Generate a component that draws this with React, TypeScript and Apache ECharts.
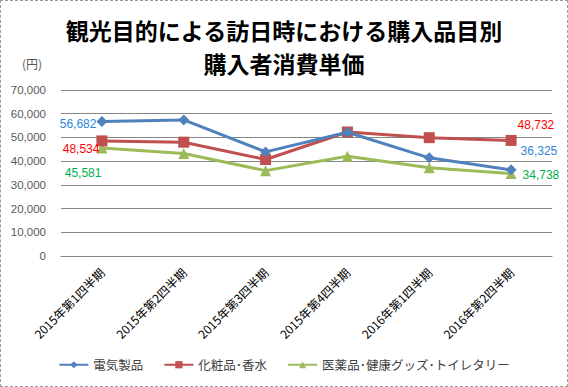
import React, { useEffect, useRef } from "react";
import * as echarts from "echarts";

const categories = [
  "2015年第1四半期",
  "2015年第2四半期",
  "2015年第3四半期",
  "2015年第4四半期",
  "2016年第1四半期",
  "2016年第2四半期",
];
const seriesNames = ["電気製品", "化粧品･香水", "医薬品･健康グッズ･トイレタリー"];
const electronics = [56682, 57400, 43900, 52200, 41400, 36325];
const cosmetics = [48534, 48000, 40700, 52300, 49900, 48732];
const medicine = [45581, 43200, 36000, 42100, 37200, 34738];
const yTicks = { min: 0, max: 70000, interval: 10000 };
const titleLines = ["観光目的による訪日時における購入品目別", "購入者消費単価"];
const unitLabel = "(円)";

const JP = '"Noto Sans CJK JP", "Noto Sans", sans-serif';
const NUM = '"Liberation Sans", Arial, sans-serif';

function buildData(
  values: number[],
  labelColor: string,
  firstLabel: { position: string; offset: number[] },
  lastLabel: { position: string; offset: number[] }
) {
  return values.map((v, i) => {
    if (i === 0 || i === values.length - 1) {
      const cfg = i === 0 ? firstLabel : lastLabel;
      return {
        value: v,
        label: {
          show: true,
          position: cfg.position,
          distance: 0,
          offset: cfg.offset,
          color: labelColor,
          fontSize: 12,
          fontFamily: NUM,
          formatter: (p: any) => Number(p.value).toLocaleString("en-US"),
        },
      };
    }
    return { value: v };
  });
}

export default function App() {
  const ref = useRef<HTMLDivElement>(null);
  useEffect(() => {
    document.body.style.margin = "0";
    if (!ref.current) return;
    const chart = echarts.init(ref.current, null, { renderer: "svg" });
    const lineStyleCommon = { width: 3 };
    chart.setOption({
      animation: false,
      backgroundColor: "#ffffff",
      title: {
        text: titleLines.join("\n"),
        left: "center",
        top: 7,
        textStyle: {
          fontFamily: JP,
          fontSize: 23,
          fontWeight: "bold",
          color: "#000000",
          lineHeight: 33,
        },
      },
      graphic: [
        {
          type: "text",
          left: 21,
          top: 56,
          style: { text: unitLabel, fontSize: 12, fontFamily: JP, fill: "#595959" },
        },
      ],
      legend: {
        bottom: 10,
        left: "center",
        itemWidth: 29,
        itemHeight: 9,
        itemGap: 20,
        textStyle: { fontFamily: JP, fontSize: 12.5, color: "#404040" },
        data: seriesNames,
      },
      grid: { left: 60, right: 15, top: 89, bottom: 130 },
      xAxis: {
        type: "category",
        data: categories,
        boundaryGap: true,
        axisLine: { show: true, lineStyle: { color: "#868686", width: 1 } },
        axisTick: { show: false },
        axisLabel: {
          rotate: 45,
          interval: 0,
          margin: 14,
          fontFamily: JP,
          fontSize: 12,
          color: "#000000",
        },
      },
      yAxis: {
        type: "value",
        min: yTicks.min,
        max: yTicks.max,
        interval: yTicks.interval,
        axisLine: { show: false },
        axisTick: { show: false },
        splitLine: { lineStyle: { color: "#868686", width: 1 } },
        axisLabel: {
          margin: 15,
          fontFamily: NUM,
          fontSize: 11.5,
          color: "#595959",
          formatter: (v: number) => v.toLocaleString("en-US"),
        },
      },
      series: [
        {
          name: seriesNames[0],
          type: "line",
          symbol: "diamond",
          symbolSize: 11,
          color: "#4F81BD",
          lineStyle: { ...lineStyleCommon, color: "#4F81BD" },
          itemStyle: { color: "#4F81BD" },
          data: buildData(
            electronics,
            "#2E86D8",
            { position: "left", offset: [0, 2] },
            { position: "right", offset: [4, -19] }
          ),
          z: 3,
        },
        {
          name: seriesNames[1],
          type: "line",
          symbol: "rect",
          symbolSize: 11,
          color: "#C0504D",
          lineStyle: { ...lineStyleCommon, color: "#C0504D" },
          itemStyle: { color: "#C0504D" },
          data: buildData(
            cosmetics,
            "#FF0000",
            { position: "left", offset: [3, 8] },
            { position: "right", offset: [1, -15] }
          ),
          z: 2,
        },
        {
          name: seriesNames[2],
          type: "line",
          symbol: "triangle",
          symbolSize: 11,
          color: "#9BBB59",
          lineStyle: { ...lineStyleCommon, color: "#9BBB59" },
          itemStyle: { color: "#9BBB59" },
          data: buildData(
            medicine,
            "#00B050",
            { position: "left", offset: [5, 25] },
            { position: "right", offset: [6, 1] }
          ),
          z: 1,
        },
      ],
    });
    return () => chart.dispose();
  }, []);
  return (
    <div
      style={{
        width: 568,
        height: 387,
        boxSizing: "border-box",
        border: "1px dashed #9a9a9a",
        overflow: "hidden",
      }}
    >
      <div ref={ref} style={{ width: 566, height: 385 }} />
    </div>
  );
}
